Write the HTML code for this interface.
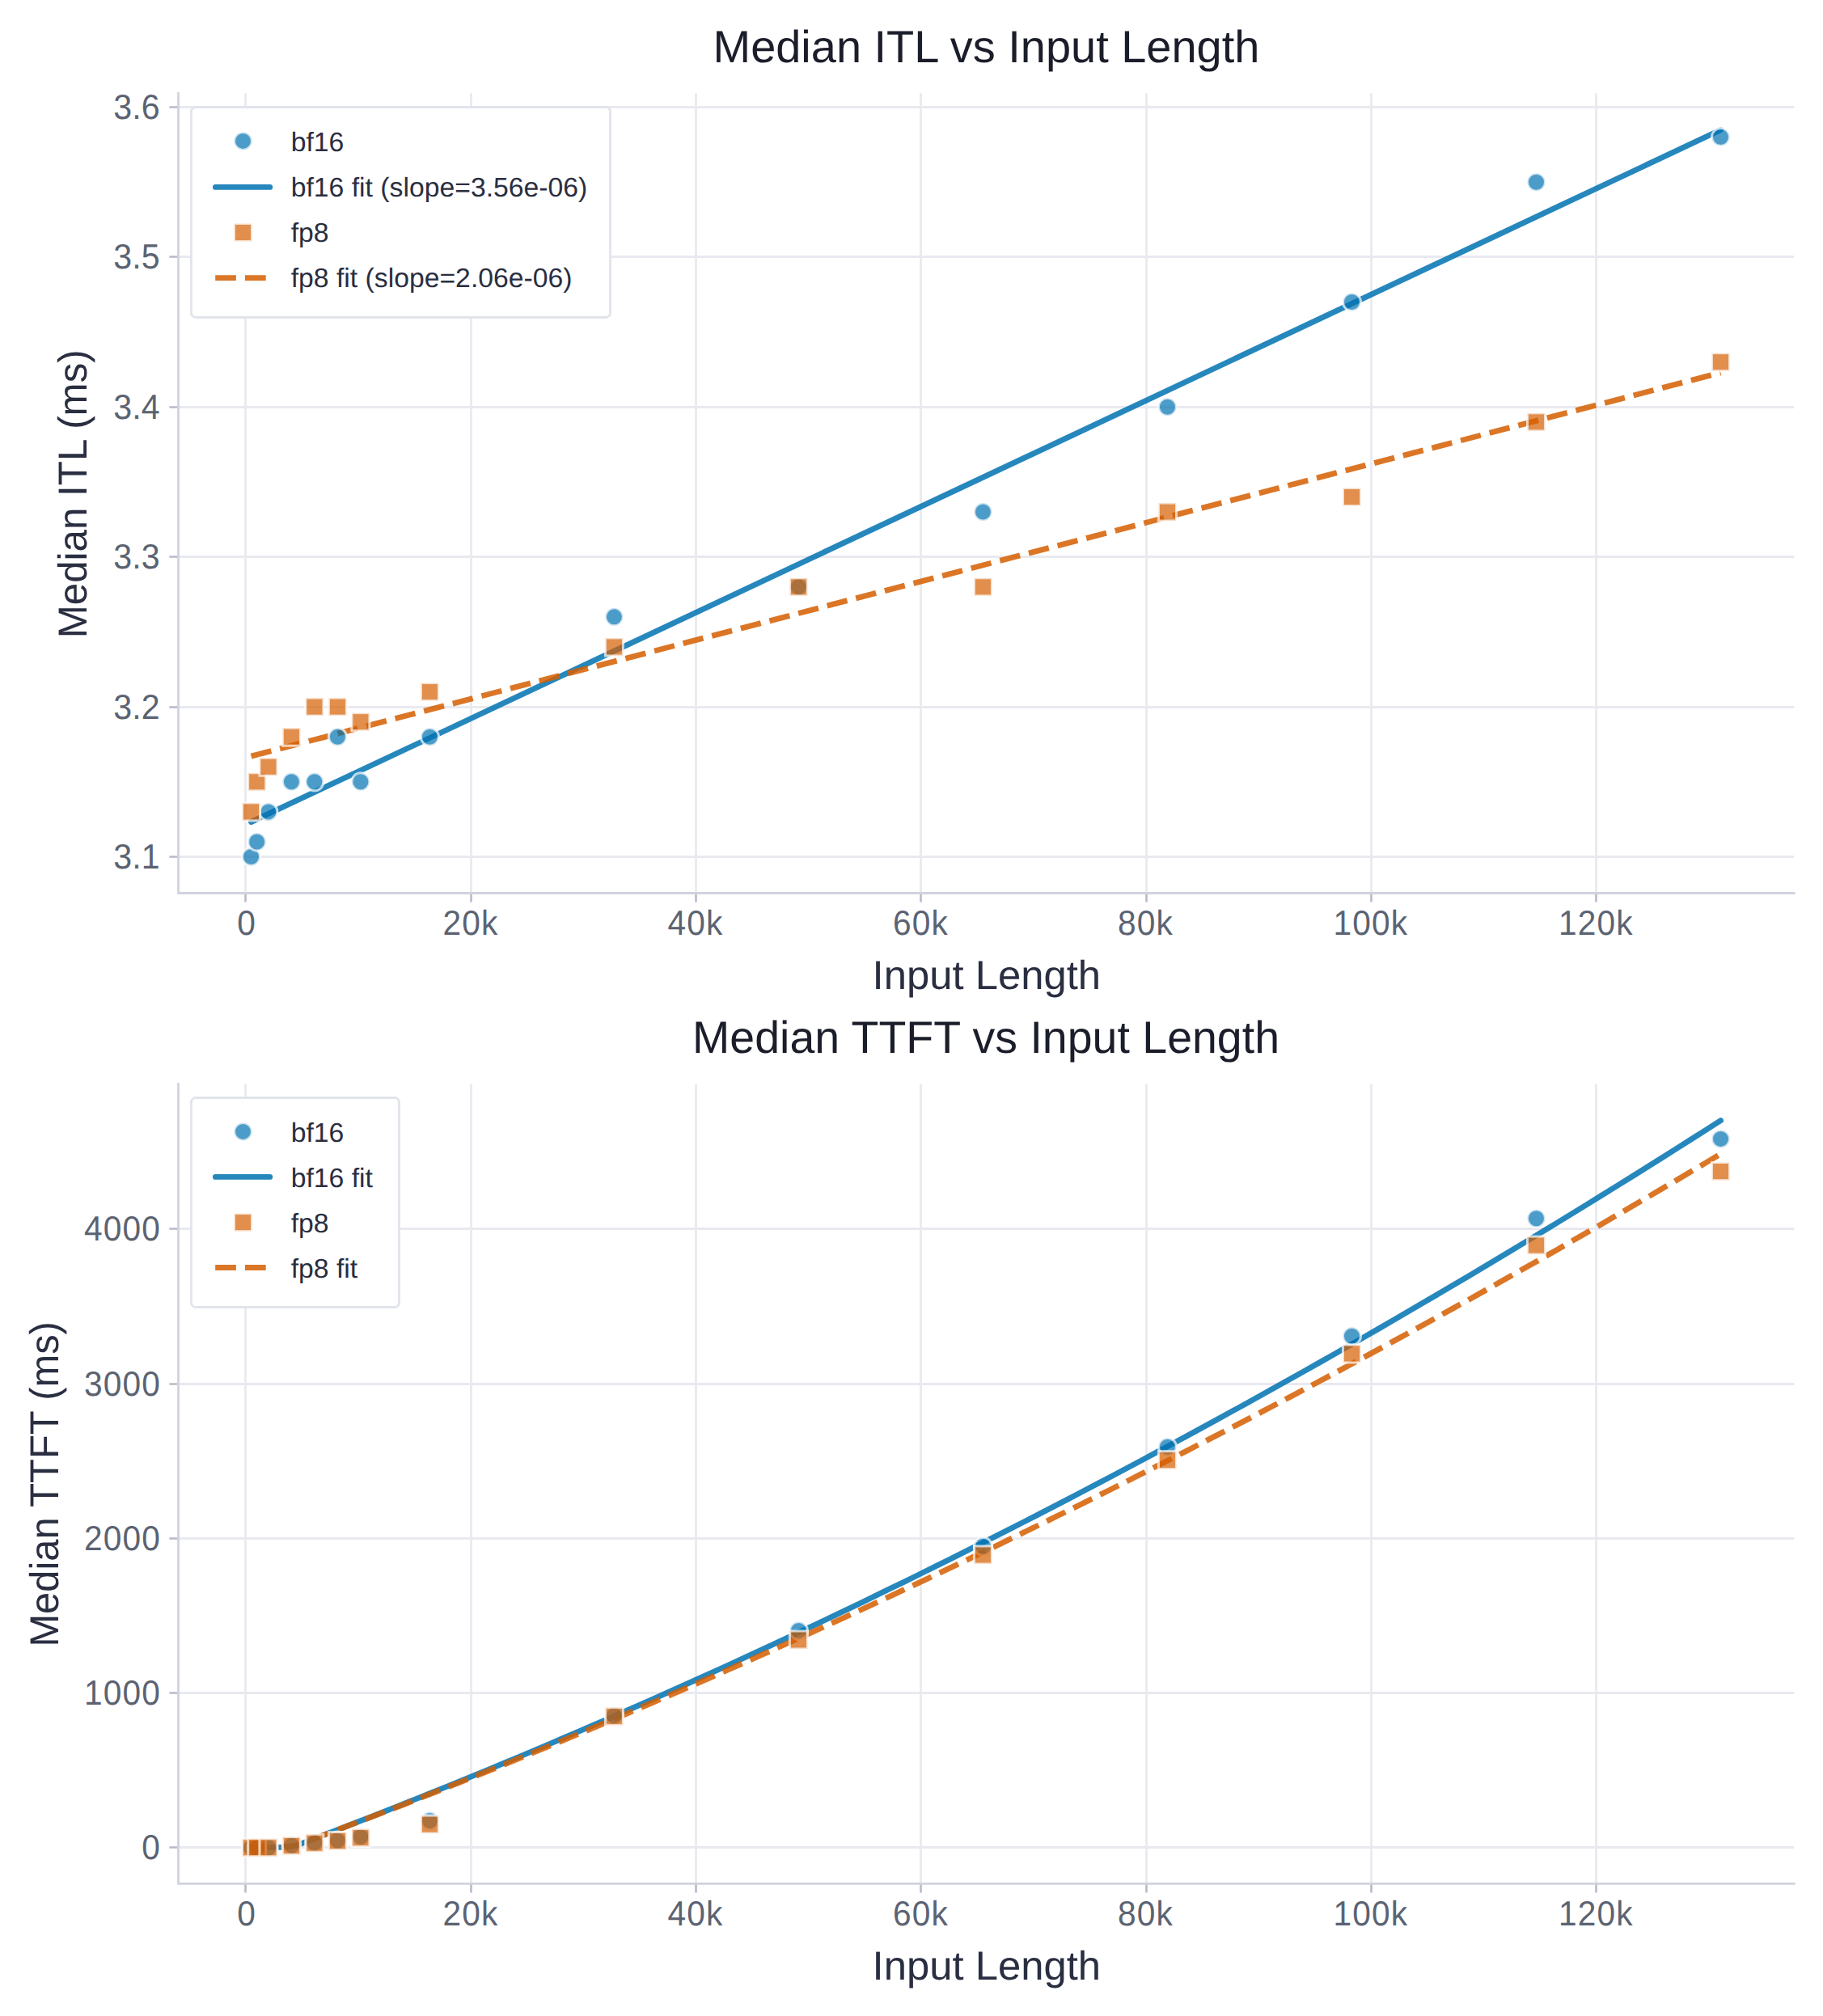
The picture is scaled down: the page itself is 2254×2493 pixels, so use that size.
<!DOCTYPE html>
<html lang="en"><head><meta charset="utf-8"><title>Median ITL and TTFT vs Input Length</title>
<style>html,body{margin:0;padding:0;background:#fff}body{width:2254px;height:2493px;overflow:hidden}svg text{white-space:pre;text-rendering:geometricPrecision;font-family:"Liberation Sans",sans-serif}</style>
</head><body>
<svg width="2254" height="2493" viewBox="0 0 2254 2493" style="display:block">
<rect width="2254" height="2493" fill="#fff"/>
<clipPath id="clip1"><rect x="220.5" y="115.3" width="1997.6999999999998" height="989.2"/></clipPath>
<path d="M303.5 115.3V1104.5M582.5 115.3V1104.5M860.5 115.3V1104.5M1138.5 115.3V1104.5M1417.5 115.3V1104.5M1695.5 115.3V1104.5M1973.5 115.3V1104.5M220.5 1059.5H2218.2M220.5 874.5H2218.2M220.5 688.5H2218.2M220.5 503.5H2218.2M220.5 317.5H2218.2M220.5 132.5H2218.2" stroke="#e9eaf0" stroke-width="2.78" fill="none"/>
<g clip-path="url(#clip1)" fill="none" stroke-width="6.94" stroke-opacity="0.85">
<polyline points="310.53,1016.49 2127.49,160.68" stroke="#0072B2" stroke-linecap="round" stroke-linejoin="round"/>
<polyline points="310.53,935.10 2127.49,460.84" stroke="#D55E00" stroke-dasharray="25.69 11.11" stroke-linejoin="round"/>
</g>
<g clip-path="url(#clip1)" stroke="#fff" stroke-width="3.0" stroke-opacity="0.7" fill-opacity="0.7">
<g fill="#0072B2">
<circle cx="310.53" cy="1059.50" r="11.00"/>
<circle cx="317.65" cy="1040.96" r="11.00"/>
<circle cx="331.90" cy="1003.88" r="11.00"/>
<circle cx="360.40" cy="966.80" r="11.00"/>
<circle cx="388.90" cy="966.80" r="11.00"/>
<circle cx="417.41" cy="911.18" r="11.00"/>
<circle cx="445.91" cy="966.80" r="11.00"/>
<circle cx="531.41" cy="911.18" r="11.00"/>
<circle cx="759.42" cy="762.86" r="11.00"/>
<circle cx="987.43" cy="725.78" r="11.00"/>
<circle cx="1215.44" cy="633.08" r="11.00"/>
<circle cx="1443.46" cy="503.30" r="11.00"/>
<circle cx="1671.47" cy="373.52" r="11.00"/>
<circle cx="1899.48" cy="225.20" r="11.00"/>
<circle cx="2127.49" cy="169.58" r="11.00"/>
</g>
<g fill="#D55E00">
<rect x="299.53" y="992.88" width="22.0" height="22.0"/>
<rect x="306.65" y="955.80" width="22.0" height="22.0"/>
<rect x="320.90" y="937.26" width="22.0" height="22.0"/>
<rect x="349.40" y="900.18" width="22.0" height="22.0"/>
<rect x="377.90" y="863.10" width="22.0" height="22.0"/>
<rect x="406.41" y="863.10" width="22.0" height="22.0"/>
<rect x="434.91" y="881.64" width="22.0" height="22.0"/>
<rect x="520.41" y="844.56" width="22.0" height="22.0"/>
<rect x="748.42" y="788.94" width="22.0" height="22.0"/>
<rect x="976.43" y="714.78" width="22.0" height="22.0"/>
<rect x="1204.44" y="714.78" width="22.0" height="22.0"/>
<rect x="1432.46" y="622.08" width="22.0" height="22.0"/>
<rect x="1660.47" y="603.54" width="22.0" height="22.0"/>
<rect x="1888.48" y="510.84" width="22.0" height="22.0"/>
<rect x="2116.49" y="436.68" width="22.0" height="22.0"/>
</g>
</g>
<path d="M303.5 1104.5v11.1M582.5 1104.5v11.1M860.5 1104.5v11.1M1138.5 1104.5v11.1M1417.5 1104.5v11.1M1695.5 1104.5v11.1M1973.5 1104.5v11.1M220.5 1059.5h-11.1M220.5 874.5h-11.1M220.5 688.5h-11.1M220.5 503.5h-11.1M220.5 317.5h-11.1M220.5 132.5h-11.1" stroke="#b6bbc9" stroke-width="2.6" fill="none"/>
<path d="M220.5 115.3V1104.5M220.5 1104.5H2218.2" stroke="#d0d3de" stroke-width="2.78" stroke-linecap="square" fill="none"/>
<text transform="translate(305.19,1155.80) scale(0.975,1.035)" text-anchor="middle"  font-size="41.67" letter-spacing="1.2" fill="#5b6372">0</text>
<text transform="translate(582.09,1155.80) scale(0.975,1.035)" text-anchor="middle"  font-size="41.67" letter-spacing="1.2" fill="#5b6372">20k</text>
<text transform="translate(860.09,1155.80) scale(0.975,1.035)" text-anchor="middle"  font-size="41.67" letter-spacing="1.2" fill="#5b6372">40k</text>
<text transform="translate(1138.59,1155.80) scale(0.975,1.035)" text-anchor="middle"  font-size="41.67" letter-spacing="1.2" fill="#5b6372">60k</text>
<text transform="translate(1416.59,1155.80) scale(0.975,1.035)" text-anchor="middle"  font-size="41.67" letter-spacing="1.2" fill="#5b6372">80k</text>
<text transform="translate(1694.88,1155.80) scale(0.975,1.035)" text-anchor="middle"  font-size="41.67" letter-spacing="1.2" fill="#5b6372">100k</text>
<text transform="translate(1973.29,1155.80) scale(0.975,1.035)" text-anchor="middle"  font-size="41.67" letter-spacing="1.2" fill="#5b6372">120k</text>
<text transform="translate(197.60,1073.50) scale(0.988,1.035)" text-anchor="end"  font-size="41.67" fill="#5b6372">3.1</text>
<text transform="translate(197.60,888.50) scale(0.988,1.035)" text-anchor="end"  font-size="41.67" fill="#5b6372">3.2</text>
<text transform="translate(197.60,702.50) scale(0.988,1.035)" text-anchor="end"  font-size="41.67" fill="#5b6372">3.3</text>
<text transform="translate(197.60,517.50) scale(0.988,1.035)" text-anchor="end"  font-size="41.67" fill="#5b6372">3.4</text>
<text transform="translate(197.60,331.50) scale(0.988,1.035)" text-anchor="end"  font-size="41.67" fill="#5b6372">3.5</text>
<text transform="translate(197.60,146.50) scale(0.988,1.035)" text-anchor="end"  font-size="41.67" fill="#5b6372">3.6</text>
<text transform="translate(1219.85,1222.60) scale(1.016,1.0)" text-anchor="middle"  font-size="50" fill="#2a2e41">Input Length</text>
<text transform="translate(106.70,610.80) rotate(-90) scale(0.986,1.0)" text-anchor="middle"  font-size="50" fill="#2a2e41">Median ITL (ms)</text>
<text transform="translate(1219.45,77.00) scale(1.0025,1.0)" text-anchor="middle"  font-size="55.8" fill="#1b1e2a">Median ITL vs Input Length</text>
<rect x="236.5" y="132.5" width="518.0" height="260.0" rx="5.6" fill="#fff" fill-opacity="0.96" stroke="#e2e4ec" stroke-width="2.78"/>
<circle cx="300.47" cy="174.40" r="11.0" fill="#0072B2" fill-opacity="0.7" stroke="#fff" stroke-opacity="0.7" stroke-width="3.0"/>
<path d="M266.4 231.40H333.7" stroke="#0072B2" stroke-opacity="0.85" stroke-width="6.94" stroke-linecap="round"/>
<rect x="289.47" y="276.50" width="22.0" height="22.0" fill="#D55E00" fill-opacity="0.7" stroke="#fff" stroke-opacity="0.7" stroke-width="3.0"/>
<path d="M266.2 343.60H333.7" stroke="#D55E00" stroke-opacity="0.85" stroke-width="6.94" stroke-dasharray="25.69 11.11"/>
<text transform="translate(359.70,186.75) scale(1.012,1.0)" text-anchor="start"  font-size="33.33" fill="#2a2e3f">bf16</text>
<text transform="translate(359.70,242.70) scale(1.012,1.0)" text-anchor="start"  font-size="33.33" fill="#2a2e3f">bf16 fit (slope=3.56e-06)</text>
<text transform="translate(359.70,298.90) scale(1.012,1.0)" text-anchor="start"  font-size="33.33" fill="#2a2e3f">fp8</text>
<text transform="translate(359.70,355.20) scale(1.012,1.0)" text-anchor="start"  font-size="33.33" fill="#2a2e3f">fp8 fit (slope=2.06e-06)</text>
<clipPath id="clip2"><rect x="220.5" y="1340.5" width="1997.6999999999998" height="988.9000000000001"/></clipPath>
<path d="M303.5 1340.5V2329.4M582.5 1340.5V2329.4M860.5 1340.5V2329.4M1138.5 1340.5V2329.4M1417.5 1340.5V2329.4M1695.5 1340.5V2329.4M1973.5 1340.5V2329.4M220.5 2284.5H2218.2M220.5 2093.5H2218.2M220.5 1902.5H2218.2M220.5 1711.5H2218.2M220.5 1519.5H2218.2" stroke="#e9eaf0" stroke-width="2.78" fill="none"/>
<g clip-path="url(#clip2)" fill="none" stroke-width="6.94" stroke-opacity="0.85">
<polyline points="310.53,2284.40 328.88,2284.40 347.23,2284.40 365.58,2282.48 383.94,2275.52 402.29,2268.51 420.64,2261.45 439.00,2254.34 457.35,2247.18 475.70,2239.97 494.06,2232.71 512.41,2225.40 530.76,2218.04 549.12,2210.63 567.47,2203.17 585.82,2195.66 604.18,2188.10 622.53,2180.49 640.88,2172.83 659.24,2165.12 677.59,2157.36 695.94,2149.54 714.30,2141.68 732.65,2133.77 751.00,2125.81 769.35,2117.79 787.71,2109.73 806.06,2101.62 824.41,2093.46 842.77,2085.24 861.12,2076.98 879.47,2068.67 897.83,2060.30 916.18,2051.89 934.53,2043.42 952.89,2034.91 971.24,2026.34 989.59,2017.73 1007.95,2009.07 1026.30,2000.35 1044.65,1991.59 1063.01,1982.77 1081.36,1973.90 1099.71,1964.99 1118.07,1956.02 1136.42,1947.01 1154.77,1937.94 1173.12,1928.82 1191.48,1919.66 1209.83,1910.44 1228.18,1901.17 1246.54,1891.86 1264.89,1882.49 1283.24,1873.07 1301.60,1863.61 1319.95,1854.09 1338.30,1844.52 1356.66,1834.90 1375.01,1825.23 1393.36,1815.52 1411.72,1805.75 1430.07,1795.93 1448.42,1786.06 1466.78,1776.14 1485.13,1766.17 1503.48,1756.15 1521.83,1746.08 1540.19,1735.96 1558.54,1725.79 1576.89,1715.57 1595.25,1705.30 1613.60,1694.98 1631.95,1684.61 1650.31,1674.19 1668.66,1663.72 1687.01,1653.20 1705.37,1642.63 1723.72,1632.00 1742.07,1621.33 1760.43,1610.61 1778.78,1599.84 1797.13,1589.02 1815.49,1578.14 1833.84,1567.22 1852.19,1556.25 1870.55,1545.23 1888.90,1534.15 1907.25,1523.03 1925.60,1511.86 1943.96,1500.63 1962.31,1489.36 1980.66,1478.04 1999.02,1466.66 2017.37,1455.24 2035.72,1443.76 2054.08,1432.24 2072.43,1420.66 2090.78,1409.04 2109.14,1397.36 2127.49,1385.64" stroke="#0072B2" stroke-linecap="round" stroke-linejoin="round"/>
<polyline points="310.53,2284.40 328.88,2284.40 347.23,2284.40 365.58,2282.30 383.94,2275.44 402.29,2268.54 420.64,2261.60 439.00,2254.61 457.35,2247.58 475.70,2240.51 494.06,2233.39 512.41,2226.23 530.76,2219.03 549.12,2211.79 567.47,2204.50 585.82,2197.16 604.18,2189.79 622.53,2182.37 640.88,2174.91 659.24,2167.40 677.59,2159.85 695.94,2152.26 714.30,2144.63 732.65,2136.95 751.00,2129.23 769.35,2121.46 787.71,2113.66 806.06,2105.80 824.41,2097.91 842.77,2089.97 861.12,2081.99 879.47,2073.97 897.83,2065.90 916.18,2057.79 934.53,2049.64 952.89,2041.44 971.24,2033.20 989.59,2024.92 1007.95,2016.59 1026.30,2008.22 1044.65,1999.81 1063.01,1991.35 1081.36,1982.85 1099.71,1974.31 1118.07,1965.72 1136.42,1957.09 1154.77,1948.42 1173.12,1939.70 1191.48,1930.95 1209.83,1922.14 1228.18,1913.30 1246.54,1904.41 1264.89,1895.48 1283.24,1886.50 1301.60,1877.48 1319.95,1868.42 1338.30,1859.32 1356.66,1850.17 1375.01,1840.98 1393.36,1831.74 1411.72,1822.47 1430.07,1813.15 1448.42,1803.78 1466.78,1794.37 1485.13,1784.92 1503.48,1775.43 1521.83,1765.89 1540.19,1756.31 1558.54,1746.69 1576.89,1737.02 1595.25,1727.31 1613.60,1717.56 1631.95,1707.76 1650.31,1697.92 1668.66,1688.04 1687.01,1678.12 1705.37,1668.15 1723.72,1658.13 1742.07,1648.08 1760.43,1637.98 1778.78,1627.84 1797.13,1617.65 1815.49,1607.42 1833.84,1597.15 1852.19,1586.84 1870.55,1576.48 1888.90,1566.08 1907.25,1555.63 1925.60,1545.14 1943.96,1534.61 1962.31,1524.04 1980.66,1513.42 1999.02,1502.76 2017.37,1492.06 2035.72,1481.31 2054.08,1470.52 2072.43,1459.68 2090.78,1448.81 2109.14,1437.89 2127.49,1426.92" stroke="#D55E00" stroke-dasharray="25.69 11.11" stroke-linejoin="round"/>
</g>
<g clip-path="url(#clip2)" stroke="#fff" stroke-width="3.0" stroke-opacity="0.7" fill-opacity="0.7">
<g fill="#0072B2">
<circle cx="310.53" cy="2284.78" r="11.00"/>
<circle cx="317.65" cy="2284.78" r="11.00"/>
<circle cx="331.90" cy="2284.78" r="11.00"/>
<circle cx="360.40" cy="2282.10" r="11.00"/>
<circle cx="388.90" cy="2278.66" r="11.00"/>
<circle cx="417.41" cy="2275.98" r="11.00"/>
<circle cx="445.91" cy="2271.39" r="11.00"/>
<circle cx="531.41" cy="2251.49" r="11.00"/>
<circle cx="759.42" cy="2121.75" r="11.00"/>
<circle cx="987.43" cy="2016.51" r="11.00"/>
<circle cx="1215.44" cy="1912.22" r="11.00"/>
<circle cx="1443.46" cy="1789.19" r="11.00"/>
<circle cx="1671.47" cy="1652.18" r="11.00"/>
<circle cx="1899.48" cy="1506.75" r="11.00"/>
<circle cx="2127.49" cy="1408.40" r="11.00"/>
</g>
<g fill="#D55E00">
<rect x="299.53" y="2273.78" width="22.0" height="22.0"/>
<rect x="306.65" y="2273.78" width="22.0" height="22.0"/>
<rect x="320.90" y="2273.78" width="22.0" height="22.0"/>
<rect x="349.40" y="2271.49" width="22.0" height="22.0"/>
<rect x="377.90" y="2268.23" width="22.0" height="22.0"/>
<rect x="406.41" y="2265.55" width="22.0" height="22.0"/>
<rect x="434.91" y="2261.54" width="22.0" height="22.0"/>
<rect x="520.41" y="2245.08" width="22.0" height="22.0"/>
<rect x="748.42" y="2111.52" width="22.0" height="22.0"/>
<rect x="976.43" y="2016.99" width="22.0" height="22.0"/>
<rect x="1204.44" y="1911.94" width="22.0" height="22.0"/>
<rect x="1432.46" y="1794.64" width="22.0" height="22.0"/>
<rect x="1660.47" y="1662.99" width="22.0" height="22.0"/>
<rect x="1888.48" y="1529.05" width="22.0" height="22.0"/>
<rect x="2116.49" y="1437.58" width="22.0" height="22.0"/>
</g>
</g>
<path d="M303.5 2329.4v11.1M582.5 2329.4v11.1M860.5 2329.4v11.1M1138.5 2329.4v11.1M1417.5 2329.4v11.1M1695.5 2329.4v11.1M1973.5 2329.4v11.1M220.5 2284.5h-11.1M220.5 2093.5h-11.1M220.5 1902.5h-11.1M220.5 1711.5h-11.1M220.5 1519.5h-11.1" stroke="#b6bbc9" stroke-width="2.6" fill="none"/>
<path d="M220.5 1340.5V2329.4M220.5 2329.4H2218.2" stroke="#d0d3de" stroke-width="2.78" stroke-linecap="square" fill="none"/>
<text transform="translate(305.19,2380.70) scale(0.975,1.035)" text-anchor="middle"  font-size="41.67" letter-spacing="1.2" fill="#5b6372">0</text>
<text transform="translate(582.09,2380.70) scale(0.975,1.035)" text-anchor="middle"  font-size="41.67" letter-spacing="1.2" fill="#5b6372">20k</text>
<text transform="translate(860.09,2380.70) scale(0.975,1.035)" text-anchor="middle"  font-size="41.67" letter-spacing="1.2" fill="#5b6372">40k</text>
<text transform="translate(1138.59,2380.70) scale(0.975,1.035)" text-anchor="middle"  font-size="41.67" letter-spacing="1.2" fill="#5b6372">60k</text>
<text transform="translate(1416.59,2380.70) scale(0.975,1.035)" text-anchor="middle"  font-size="41.67" letter-spacing="1.2" fill="#5b6372">80k</text>
<text transform="translate(1694.88,2380.70) scale(0.975,1.035)" text-anchor="middle"  font-size="41.67" letter-spacing="1.2" fill="#5b6372">100k</text>
<text transform="translate(1973.29,2380.70) scale(0.975,1.035)" text-anchor="middle"  font-size="41.67" letter-spacing="1.2" fill="#5b6372">120k</text>
<text transform="translate(199.07,2298.50) scale(0.975,1.035)" text-anchor="end"  font-size="41.67" letter-spacing="1.2" fill="#5b6372">0</text>
<text transform="translate(199.07,2107.50) scale(0.975,1.035)" text-anchor="end"  font-size="41.67" letter-spacing="1.2" fill="#5b6372">1000</text>
<text transform="translate(199.07,1916.50) scale(0.975,1.035)" text-anchor="end"  font-size="41.67" letter-spacing="1.2" fill="#5b6372">2000</text>
<text transform="translate(199.07,1725.50) scale(0.975,1.035)" text-anchor="end"  font-size="41.67" letter-spacing="1.2" fill="#5b6372">3000</text>
<text transform="translate(199.07,1533.50) scale(0.975,1.035)" text-anchor="end"  font-size="41.67" letter-spacing="1.2" fill="#5b6372">4000</text>
<text transform="translate(1219.85,2447.50) scale(1.016,1.0)" text-anchor="middle"  font-size="50" fill="#2a2e41">Input Length</text>
<text transform="translate(71.90,1835.35) rotate(-90) scale(0.9765,1.0)" text-anchor="middle"  font-size="50" fill="#2a2e41">Median TTFT (ms)</text>
<text transform="translate(1219.05,1302.20) scale(0.9945,1.0)" text-anchor="middle"  font-size="55.8" fill="#1b1e2a">Median TTFT vs Input Length</text>
<rect x="236.5" y="1357.5" width="257.0" height="259.0" rx="5.6" fill="#fff" fill-opacity="0.96" stroke="#e2e4ec" stroke-width="2.78"/>
<circle cx="300.47" cy="1399.40" r="11.0" fill="#0072B2" fill-opacity="0.7" stroke="#fff" stroke-opacity="0.7" stroke-width="3.0"/>
<path d="M266.4 1455.40H333.7" stroke="#0072B2" stroke-opacity="0.85" stroke-width="6.94" stroke-linecap="round"/>
<rect x="289.47" y="1500.60" width="22.0" height="22.0" fill="#D55E00" fill-opacity="0.7" stroke="#fff" stroke-opacity="0.7" stroke-width="3.0"/>
<path d="M266.2 1567.50H333.7" stroke="#D55E00" stroke-opacity="0.85" stroke-width="6.94" stroke-dasharray="25.69 11.11"/>
<text transform="translate(359.70,1411.75) scale(1.012,1.0)" text-anchor="start"  font-size="33.33" fill="#2a2e3f">bf16</text>
<text transform="translate(359.70,1467.70) scale(1.012,1.0)" text-anchor="start"  font-size="33.33" fill="#2a2e3f">bf16 fit</text>
<text transform="translate(359.70,1523.90) scale(1.012,1.0)" text-anchor="start"  font-size="33.33" fill="#2a2e3f">fp8</text>
<text transform="translate(359.70,1579.60) scale(1.012,1.0)" text-anchor="start"  font-size="33.33" fill="#2a2e3f">fp8 fit</text>
</svg>
</body></html>
